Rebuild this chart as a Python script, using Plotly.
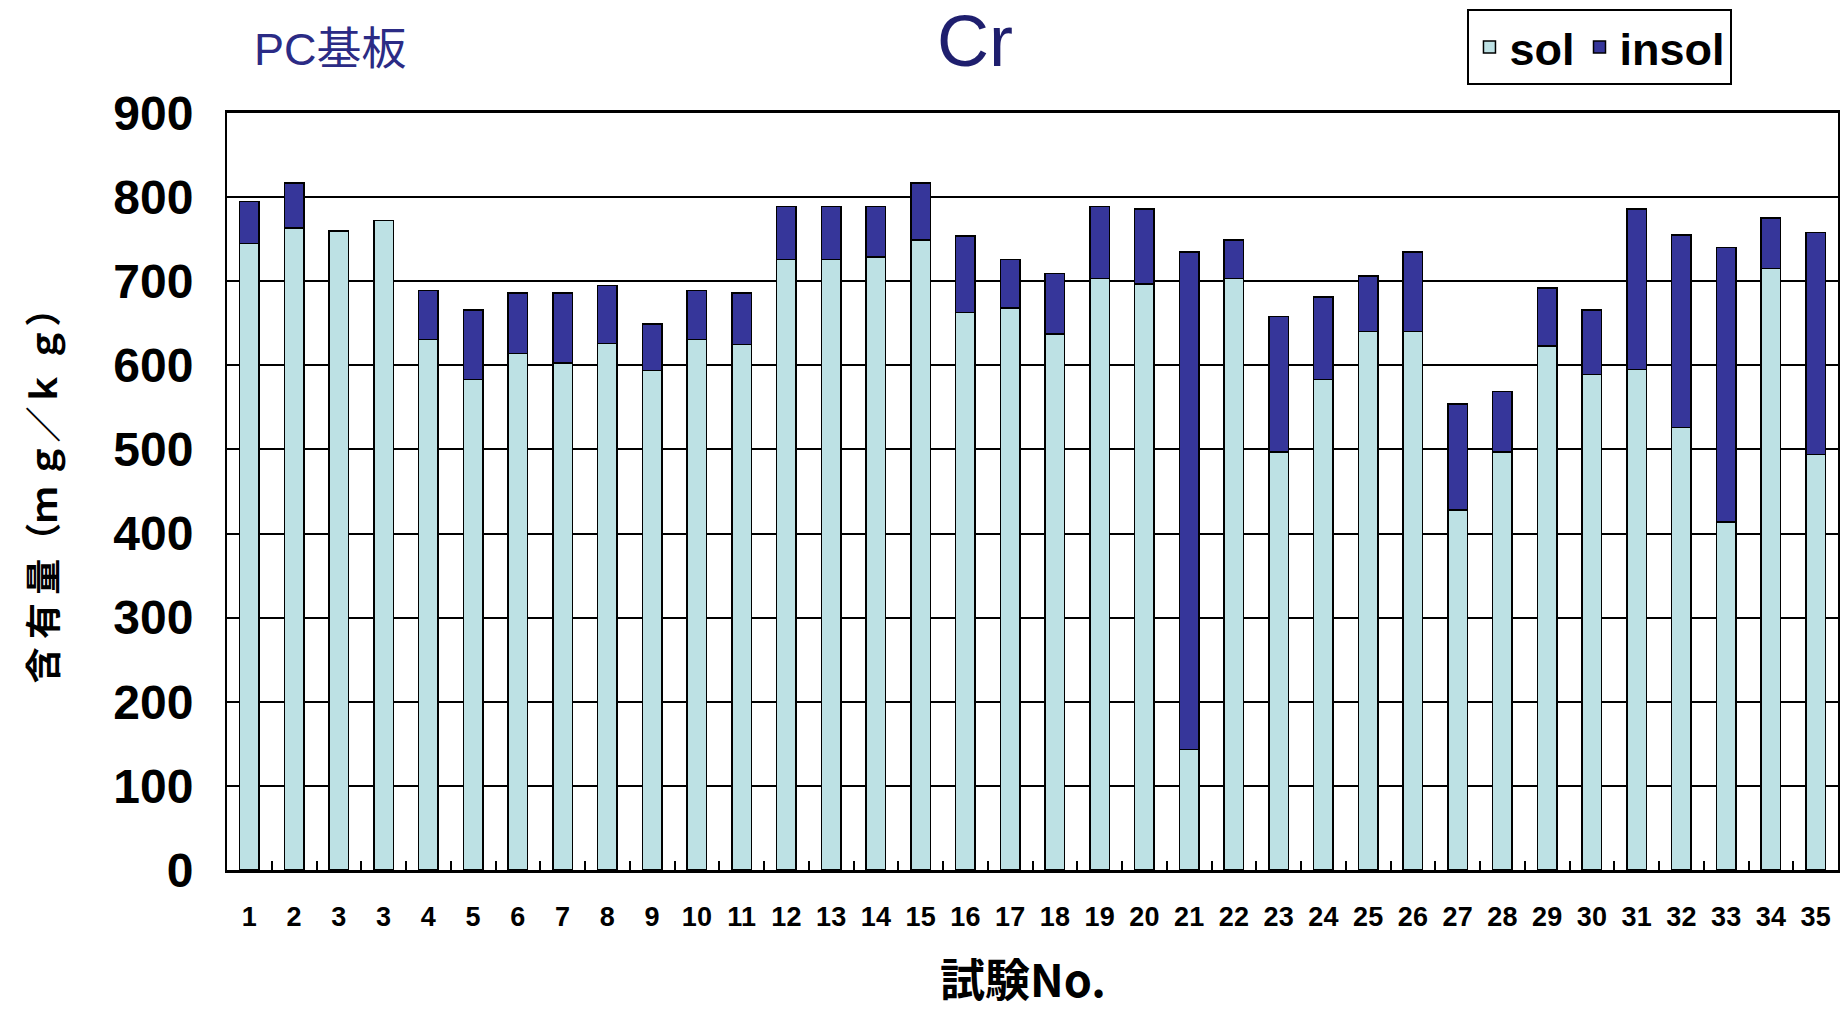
import plotly.graph_objects as go

# ---- data ----
test_labels = ["1", "2", "3", "3", "4", "5", "6", "7", "8", "9", "10", "11", "12", "13", "14",
               "15", "16", "17", "18", "19", "20", "21", "22", "23", "24", "25", "26", "27",
               "28", "29", "30", "31", "32", "33", "34", "35"]
totals = [795, 817, 760, 772, 689, 666, 686, 686, 695, 649, 689, 686, 789, 789, 789,
          817, 754, 726, 709, 789, 786, 735, 749, 658, 681, 706, 735, 554,
          569, 692, 666, 786, 755, 740, 775, 758]
sol = [745, 763, 760, 772, 631, 583, 614, 603, 626, 594, 631, 625, 726, 726, 729,
       749, 663, 668, 637, 703, 697, 143, 703, 497, 583, 640, 640, 428,
       497, 623, 589, 595, 526, 414, 715, 494]
insol = [t - s for t, s in zip(totals, sol)]
y_ticks = [0, 100, 200, 300, 400, 500, 600, 700, 800, 900]

# unique category keys (zero-width space keeps duplicate "3" distinct)
cats = []
seen = {}
for lab in test_labels:
    n = seen.get(lab, 0)
    cats.append(lab + "\u200b" * n)
    seen[lab] = n + 1

SANS = "Liberation Sans, Arial, sans-serif"
CJK = "Noto Sans CJK JP, sans-serif"

fig = go.Figure()
fig.add_trace(go.Bar(x=cats, y=sol, name="sol",
                     marker=dict(color="#BDE1E4", line=dict(color="black", width=1.5))))
fig.add_trace(go.Bar(x=cats, y=insol, name="insol",
                     marker=dict(color="#36369A", line=dict(color="black", width=1.5))))

fig.update_layout(
    barmode="stack",
    bargap=0.56,
    width=1845, height=1010,
    margin=dict(l=227, r=7, t=113, b=140),
    paper_bgcolor="white", plot_bgcolor="white",
    showlegend=True,
    legend=dict(orientation="h", x=0.770, y=1.137, xanchor="left", yanchor="top",
                bordercolor="black", borderwidth=2, bgcolor="white",
                font=dict(family=SANS, size=45, color="black", weight="bold"),
                itemwidth=30, traceorder="normal", tracegroupgap=0),
    xaxis=dict(type="category", categoryorder="array", categoryarray=cats,
               tickson="boundaries", ticks="inside", ticklen=9, tickwidth=1.5, tickcolor="black",
               showline=True, linecolor="black", linewidth=3, mirror=True,
               showgrid=False, tickangle=0, automargin=False,
               tickfont=dict(family=SANS, size=27, color="black", weight="bold"),
               ticklabelstandoff=21),
    yaxis=dict(range=[0, 900], tickvals=y_ticks, ticks="",
               showline=True, linecolor="black", linewidth=2, mirror=True,
               showgrid=True, gridcolor="black", gridwidth=2, zeroline=False,
               automargin=False,
               tickfont=dict(family=SANS, size=48, color="black", weight="bold"),
               ticklabelstandoff=22),
)

fig.add_annotation(text="Cr", xref="paper", yref="paper", x=0.4645, y=1.095,
                   showarrow=False, xanchor="center", yanchor="middle",
                   font=dict(family=SANS, size=72, color="#1F1F6E"))
fig.add_annotation(text="PC基板", xref="paper", yref="paper", x=0.0645, y=1.0845,
                   showarrow=False, xanchor="center", yanchor="middle",
                   font=dict(family="Liberation Sans, " + CJK, size=45, color="#2B2B85"))
fig.add_annotation(text="試験No.", xref="paper", yref="paper", x=0.494, y=-0.142,
                   showarrow=False, xanchor="center", yanchor="middle",
                   font=dict(family=CJK, size=45, color="black", weight="bold"))
fig.add_annotation(text="含 有 量（ｍ ｇ／ｋ ｇ）", xref="paper", yref="paper", x=-0.1155, y=0.507,
                   showarrow=False, xanchor="center", yanchor="middle", textangle=-90,
                   font=dict(family=CJK, size=36, color="black", weight="bold"))

fig.write_html("out.html")
